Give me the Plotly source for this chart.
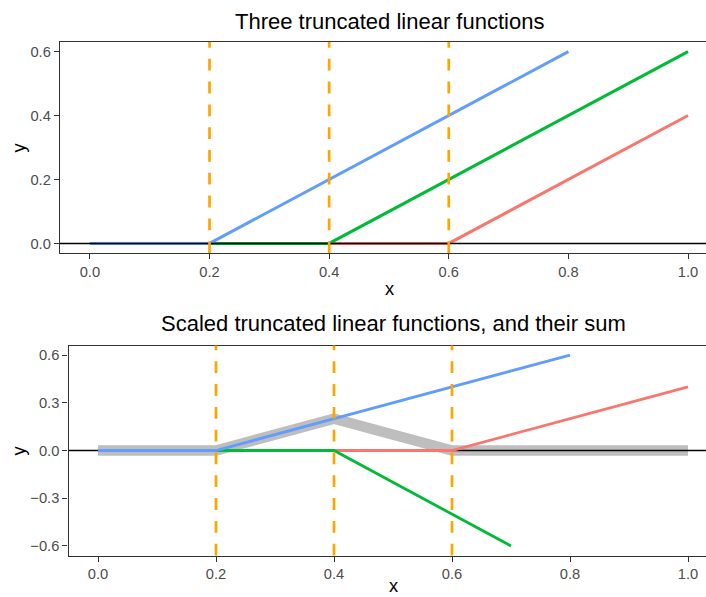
import plotly.graph_objects as go

# ---------------- data ----------------
knots = [0.2, 0.4, 0.6]

# top panel: three truncated linear functions
blue_x = [0.0, 0.2, 0.8]
blue_y = [0.0, 0.0, 0.6]
green_x = [0.0, 0.4, 1.0]
green_y = [0.0, 0.0, 0.6]
red_x = [0.0, 0.6, 1.0]
red_y = [0.0, 0.0, 0.4]

# bottom panel: scaled truncated linear functions and their sum
s_blue_x = [0.0, 0.2, 0.8]
s_blue_y = [0.0, 0.0, 0.6]
s_green_x = [0.0, 0.4, 0.7]
s_green_y = [0.0, 0.0, -0.6]
s_red_x = [0.0, 0.6, 1.0]
s_red_y = [0.0, 0.0, 0.4]
sum_x = [0.0, 0.2, 0.4, 0.6, 1.0]
sum_y = [0.0, 0.0, 0.2, 0.0, 0.0]

x_ticks = [0.0, 0.2, 0.4, 0.6, 0.8, 1.0]
x_ticklabels = ["0.0", "0.2", "0.4", "0.6", "0.8", "1.0"]
top_y_ticks = [0.0, 0.2, 0.4, 0.6]
top_y_ticklabels = ["0.0", "0.2", "0.4", "0.6"]
bot_y_ticks = [-0.6, -0.3, 0.0, 0.3, 0.6]
bot_y_ticklabels = ["\u22120.6", "\u22120.3", "0.0", "0.3", "0.6"]

title_top = "Three truncated linear functions"
title_bot = "Scaled truncated linear functions, and their sum"

# ---------------- style ----------------
W, H = 706, 597
BLUE = "#619CFF"
GREEN = "#00BA38"
RED = "#F8766D"
ORANGE = "#FFA500"
GREY = "#BEBEBE"
FONT = "Liberation Sans, Arial, sans-serif"
TICKCOL = "#4D4D4D"
AXCOL = "#333333"

top_xrange = [-0.05, 1.0 + 18 / 598]
bot_xrange = [-0.05, 1.0 + 18 / 590]
top_yrange = [-0.03, 0.63]
bot_yrange = [-0.66, 0.66]

fig = go.Figure()

# top panel traces (red, green, blue order -> blue on top)
for xs, ys, c in [(red_x, red_y, RED), (green_x, green_y, GREEN), (blue_x, blue_y, BLUE)]:
    fig.add_trace(go.Scatter(x=xs, y=ys, mode="lines", line=dict(color=c, width=3),
                             xaxis="x", yaxis="y", showlegend=False, hoverinfo="skip"))

# bottom panel: sum (grey, thick), zero line, then scaled functions
fig.add_trace(go.Scatter(x=sum_x, y=sum_y, mode="lines", line=dict(color=GREY, width=10.5),
                         xaxis="x2", yaxis="y2", showlegend=False, hoverinfo="skip"))
fig.add_trace(go.Scatter(x=bot_xrange, y=[0, 0], mode="lines", line=dict(color="black", width=1.5),
                         xaxis="x2", yaxis="y2", showlegend=False, hoverinfo="skip"))
for xs, ys, c in [(s_red_x, s_red_y, RED), (s_green_x, s_green_y, GREEN), (s_blue_x, s_blue_y, BLUE)]:
    fig.add_trace(go.Scatter(x=xs, y=ys, mode="lines", line=dict(color=c, width=2.8),
                             xaxis="x2", yaxis="y2", showlegend=False, hoverinfo="skip"))

# top zero line above the traces
fig.add_shape(type="line", xref="x domain", yref="y", x0=0, x1=1, y0=0, y1=0,
              line=dict(color="black", width=1.5), layer="above")

# knot lines
for k in knots:
    fig.add_shape(type="line", xref="x", yref="y domain", x0=k, x1=k, y0=0, y1=1,
                  line=dict(color=ORANGE, width=2.7, dash="11.8px,11px"), layer="above")
    fig.add_shape(type="line", xref="x2", yref="y2 domain", x0=k, x1=k, y0=0, y1=1,
                  line=dict(color=ORANGE, width=2.7, dash="11.8px,11px"), layer="above")

axis_common = dict(showgrid=False, zeroline=False, showline=True, linecolor=AXCOL, linewidth=1.4,
                   ticks="outside", ticklen=5, tickwidth=1.2, tickcolor=AXCOL,
                   tickfont=dict(family=FONT, size=14.7, color=TICKCOL), automargin=False)

top_dom = [1 - 253 / H, 1 - 42 / H]
bot_dom = [1 - 555.5 / H, 1 - 345.5 / H]

fig.update_layout(
    width=W, height=H,
    margin=dict(l=0, r=0, t=0, b=0),
    paper_bgcolor="white", plot_bgcolor="white",
    showlegend=False,
    xaxis=dict(domain=[60 / W, 1], range=top_xrange, anchor="y", mirror=True,
               tickvals=x_ticks, ticktext=x_ticklabels, **axis_common),
    yaxis=dict(domain=top_dom, range=top_yrange, anchor="x",
               tickvals=top_y_ticks, ticktext=top_y_ticklabels, **axis_common),
    xaxis2=dict(domain=[68.5 / W, 1], range=bot_xrange, anchor="y2", mirror=True,
                tickvals=x_ticks, ticktext=x_ticklabels, **axis_common),
    yaxis2=dict(domain=bot_dom, range=bot_yrange, anchor="x2",
                tickvals=bot_y_ticks, ticktext=bot_y_ticklabels, **axis_common),
)

def px(xp):
    return xp / W

def py(yp):
    return 1 - yp / H

anns = [
    dict(text=title_top, x=px(389), y=py(21), size=22, ya="middle"),
    dict(text=title_bot, x=px(393.5), y=py(323), size=22, ya="middle"),
    dict(text="x", x=px(389), y=py(288), size=18.3, ya="middle"),
    dict(text="x", x=px(393), y=0, size=18.3, ya="bottom"),
]
for a in anns:
    fig.add_annotation(text=a["text"], x=a["x"], y=a["y"], xref="paper", yref="paper",
                       xanchor="center", yanchor=a["ya"], showarrow=False, borderpad=0,
                       font=dict(family=FONT, size=a["size"], color="black"))
for yc in [147.5, 450.5]:
    fig.add_annotation(text="y", x=px(18), y=py(yc), xref="paper", yref="paper",
                       xanchor="center", yanchor="middle", showarrow=False, textangle=-90,
                       font=dict(family=FONT, size=18.3, color="black"))

fig.write_html(
    "out.html",
    config={"displayModeBar": False},
    post_script="document.body.style.margin='0';document.body.style.overflow='hidden';",
)
